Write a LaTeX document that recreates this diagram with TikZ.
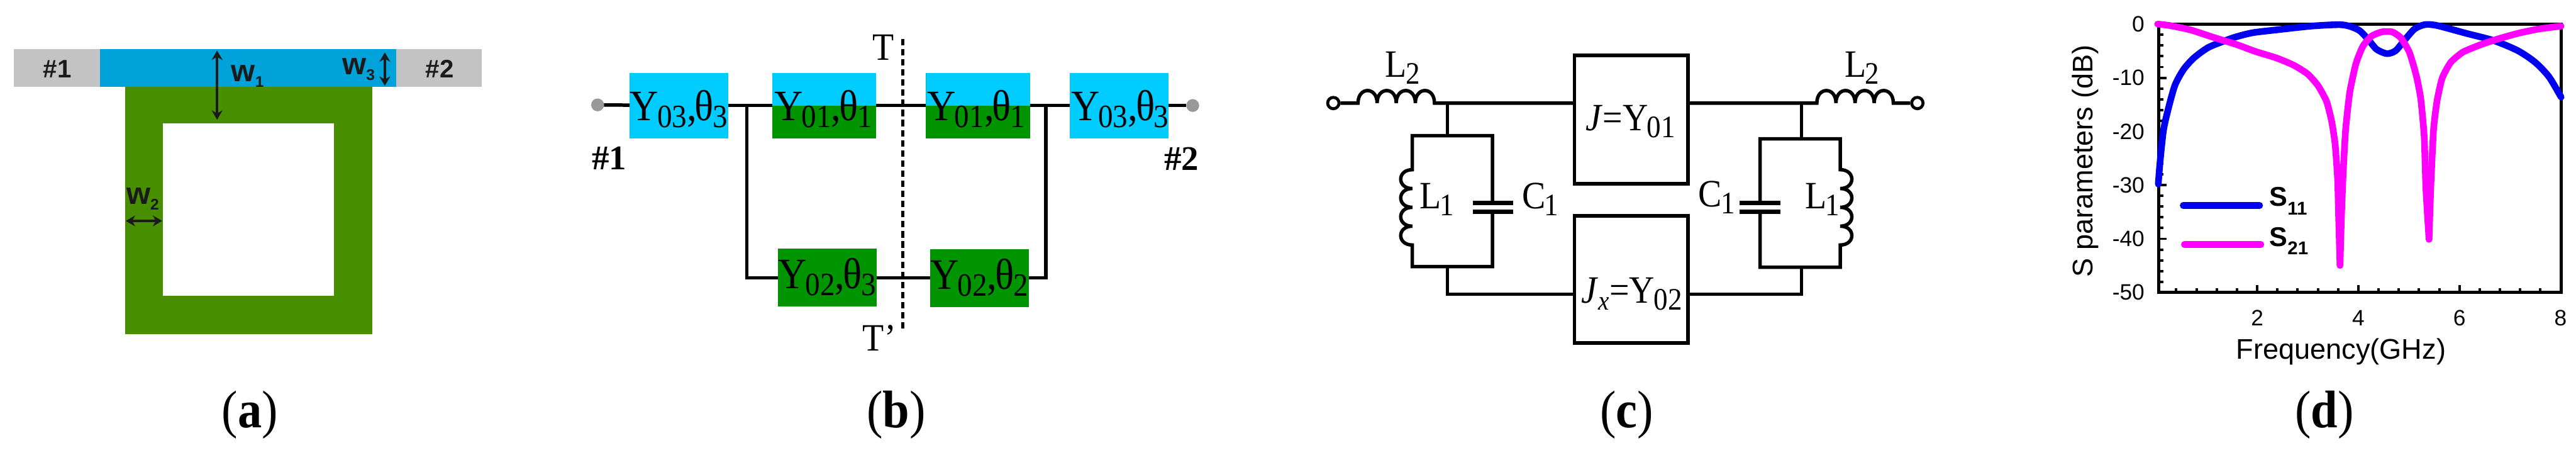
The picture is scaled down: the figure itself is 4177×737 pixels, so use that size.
\documentclass[tikz,border=0pt]{standalone}
\usepackage{fontspec}
\usepackage{graphicx}
\setmainfont{Liberation Serif}
\setsansfont{Liberation Sans}
\usetikzlibrary{arrows.meta}
\definecolor{agray}{HTML}{C3C3C3}
\definecolor{ablue}{HTML}{00A3D9}
\definecolor{agreen}{HTML}{488F00}
\definecolor{ink}{HTML}{1A1A1A}
\definecolor{bcyan}{HTML}{00CCFF}
\definecolor{bgreen}{HTML}{009400}
\definecolor{dotgray}{HTML}{999999}
\definecolor{sblue}{HTML}{0000F0}
\definecolor{smag}{HTML}{FF00FF}
\newcommand{\fpx}[1]{\fontsize{\dimexpr#1pt/4\relax}{\dimexpr#1pt/4\relax}\selectfont}
\newcommand{\subsc}[3]{\raisebox{-#2pt}{\fpx{#1}#3}}
\newcommand{\tall}[1]{\scalebox{1}[1.1]{#1}}
\newcommand{\wlab}[1]{\sffamily\bfseries\fpx{50}w\subsc{25}{2.3}{#1}}
\newcommand{\ytheta}[2]{\tall{\fpx{64}Y\kern-.5pt\subsc{48}{2.5}{#1},\kern-.8pt θ\kern-.3pt\subsc{48}{2.5}{#2}}}
\newcommand{\elab}[2]{\tall{\fpx{57}#1\kern-.4pt\subsc{46}{2.5}{#2}}}
\newcommand{\capt}[1]{\tall{\fpx{78}(\textbf{#1})}}
\tikzset{
  bx/.style 2 args={rectangle,inner sep=0pt,outer sep=0pt,minimum width=#1*.25pt,minimum height=#2*.25pt},
  txt/.style={inner sep=0pt,outer sep=0pt,anchor=base},
  txtw/.style={inner sep=0pt,outer sep=0pt,anchor=base west},
  dimarrow/.style={draw=ink,line width=.95pt,{Stealth[length=3.8pt,width=4.4pt]}-{Stealth[length=3.8pt,width=4.4pt]}},
  wire/.style={draw=black,line width=1.4pt,line join=miter},
  halfbox/.style={bx={169}{106},fill=bgreen,path picture={\fill[bcyan] (path picture bounding box.north west) rectangle (path picture bounding box.east);}},
  cyanbox/.style={bx={160}{106},fill=bcyan},
  greenbox/.style={bx={160}{94},fill=bgreen},
  portdot/.style={circle,fill=dotgray,inner sep=0pt,outer sep=0pt,minimum size=5.2pt},
  term/.style={circle,draw=black,fill=white,line width=1.2pt,inner sep=0pt,minimum size=4.6pt},
  axisline/.style={draw=black,line width=1.25pt},
  tick/.style={draw=black,line width=1pt},
  s11/.style={draw=sblue,line width=2.7pt,line join=round,line cap=round},
  s21/.style={draw=smag,line width=2.7pt,line join=round,line cap=round},
  ticklab/.style={font=\sffamily\fpx{36},inner sep=0pt},
  axtitle/.style={font=\sffamily\fpx{46},inner sep=0pt}
}
\begin{document}
\begin{tikzpicture}[x=.25pt,y=-.25pt]
\path[use as bounding box] (0,0) rectangle (4177,737);
% ---- (a) layout
\node[bx={759}{61},fill=agray] (feed) at (401.5,110.5) {};
\node[bx={480}{61},fill=ablue] (line) at (402,110.5) {};
\node[bx={401}{400},fill=agreen,anchor=north] (ring) at (403.5,141) {};
\node[bx={278}{279},fill=white,anchor=north west] (hole) at (264,200) {};
\node[font=\sffamily\bfseries\fpx{41},text=ink,inner sep=0pt] (p1a) at (93,112) {\#1};
\node[font=\sffamily\bfseries\fpx{41},text=ink,inner sep=0pt] (p2a) at (713,112) {\#2};
\coordinate (w1t) at (352,82); \coordinate (w1b) at (352,194);
\coordinate (w3t) at (624,85); \coordinate (w3b) at (624,139);
\coordinate (w2l) at (204,358); \coordinate (w2r) at (263,358);
\draw[dimarrow] (w1t) -- (w1b);
\draw[dimarrow] (w3t) -- (w3b);
\draw[dimarrow] (w2l) -- (w2r);
\node[txtw,text=ink] (w1) at (375,132) {\wlab{1}};
\node[txtw,text=ink] (w3) at (555,121) {\wlab{3}};
\node[txtw,text=ink] (w2) at (205,331) {\wlab{2}};
\node[txt] (capa) at (405,693) {\capt{a}};
% ---- (b) transmission lines
\node[cyanbox] (b1) at (1101,171) {};
\node[halfbox] (b2) at (1336.5,171) {};
\node[halfbox] (b3) at (1586,171) {};
\node[cyanbox] (b4) at (1815,171) {};
\node[greenbox] (b5) at (1341.5,449.5) {};
\node[greenbox] (b6) at (1588,451) {};
\node[portdot] (pl) at (969,170) {};
\node[portdot] (pr) at (1934,171) {};
\coordinate (jl) at (1211,171);
\coordinate (jr) at (1696,171);
\coordinate (cl) at (1211,450);
\coordinate (cr) at (1696,450);
\draw[wire] (pl) -- (b1);
\draw[wire] (b1) -- (b2);
\draw[wire] (b2) -- (b3);
\draw[wire] (b3) -- (b4);
\draw[wire] (b4) -- (pr);
\draw[wire] (jl) -- (cl) -- (cl -| b5.west);
\draw[wire] (jr) -- (cr) -- (cr -| b6.east);
\draw[wire] (b5.east |- cl) -- (b6.west |- cl);
\coordinate (cutt) at (1464,63); \coordinate (cutb) at (1464,536);
\draw[draw=black,line width=1.25pt,dash pattern=on 2.6pt off 1.5pt] (cutt) -- (cutb);
\node[txt] (y1) at (1101,195) {\ytheta{03}{3}};
\node[txt] (y2) at (1335,195) {\ytheta{01}{1}};
\node[txt] (y3) at (1583,195) {\ytheta{01}{1}};
\node[txt] (y4) at (1816,195) {\ytheta{03}{3}};
\node[txt] (y5) at (1341,468) {\ytheta{02}{3}};
\node[txt] (y6) at (1588,469) {\ytheta{02}{2}};
\node[txt] (tt) at (1432,97) {\tall{\fpx{57}T}};
\node[txt] (ttp) at (1426,569) {\tall{\fpx{57}T\char39}};
\node[font=\bfseries\fpx{56},inner sep=0pt] (p1b) at (988,256) {\#1};
\node[font=\bfseries\fpx{56},inner sep=0pt] (p2b) at (1916,257) {\#2};
\node[txt] (capb) at (1453,693) {\tall{\fpx{78}(\textbf{b})}};
% ---- (c) equivalent circuit
\node[bx={184}{208},draw=black,line width=1.5pt] (jbox) at (2645,194) {};
\node[bx={184}{206},draw=black,line width=1.5pt] (jxbox) at (2645,453) {};
\node[term] (tl) at (2162,167) {};
\node[term] (tr) at (3109,167) {};
\coordinate (l2la) at (2202,167); \coordinate (l2lb) at (2326,167);
\coordinate (l2ra) at (2946,167); \coordinate (l2rb) at (3070,167);
\coordinate (jna) at (2347,167); \coordinate (jnb) at (2921,167);
\draw[wire] (tl) -- (l2la) \foreach \i in {1,2,3,4} { .. controls +(0,-27) and +(0,-27) .. ++(31,0) } -- (jbox.west |- l2la);
\draw[wire] (jbox.east |- l2ra) -- (l2ra) \foreach \i in {1,2,3,4} { .. controls +(0,-27) and +(0,-27) .. ++(31,0) } -- (tr);
% left tank
\coordinate (lt) at (2347,220); \coordinate (lb) at (2347,432);
\coordinate (ltl) at (2290,220); \coordinate (ltr) at (2420,220);
\coordinate (lbl) at (2290,432); \coordinate (lbr) at (2420,432);
\coordinate (lca) at (2420,329); \coordinate (lcb) at (2420,343);
\coordinate (lcoil) at (2290,275);
\draw[wire] (jna) -- (lt);
\draw[wire] (lca) -- (ltr) -- (ltl) -- (lcoil) \foreach \i in {1,2,3,4} { .. controls +(-25,0) and +(-25,0) .. ++(0,30.5) } -- (lbl) -- (lbr) -- (lcb);
\draw[draw=black,line width=1.9pt] (2388,329) -- (2454,329);
\draw[draw=black,line width=1.9pt] (2388,343) -- (2454,343);
\draw[wire] (lb) -- (2347,477) -- (jxbox.west |- 2347,477);
% right tank
\coordinate (rt) at (2921,225); \coordinate (rb) at (2921,433);
\coordinate (rtl) at (2854,225); \coordinate (rtr) at (2984,225);
\coordinate (rbl) at (2854,433); \coordinate (rbr) at (2984,433);
\coordinate (rca) at (2854,329); \coordinate (rcb) at (2854,343);
\coordinate (rcoil) at (2984,275);
\draw[wire] (jnb) -- (rt);
\draw[wire] (rca) -- (rtl) -- (rtr) -- (rcoil) \foreach \i in {1,2,3,4} { .. controls +(25,0) and +(25,0) .. ++(0,30.5) } -- (rbr) -- (rbl) -- (rcb);
\draw[draw=black,line width=1.9pt] (2821,329) -- (2887,329);
\draw[draw=black,line width=1.9pt] (2821,343) -- (2887,343);
\draw[wire] (rb) -- (2921,477) -- (jxbox.east |- 2921,477);
\node[txtw] (ll2l) at (2246,125) {\elab{L}{2}};
\node[txtw] (ll2r) at (2991,125) {\elab{L}{2}};
\node[txtw] (ll1l) at (2302,338) {\elab{L}{1}};
\node[txtw] (lc1l) at (2468,338) {\elab{C}{1}};
\node[txtw] (lc1r) at (2754,335) {\elab{C}{1}};
\node[txtw] (ll1r) at (2927,338) {\elab{L}{1}};
\node[txt] (jt) at (2644,212) {\tall{\fpx{57}\textit{J}=Y\kern-.4pt\subsc{46}{2.5}{01}}};
\node[txt] (jxt) at (2646,491) {\tall{\fpx{57}\textit{J}\subsc{40}{2.5}{\textit{x}}=Y\kern-.4pt\subsc{46}{2.5}{02}}};
\node[txt] (capc) at (2638,693) {\tall{\fpx{78}(\textbf{c})}};
% ---- (d) plot
\foreach \v in {0,-2,...,-50} { \draw[tick] (3500,39+8.7*-\v) -- ++(8,0); }
\foreach \v in {0,-10,...,-50} { \draw[tick] (3500,39+8.7*-\v) -- ++(13,0); }
\foreach \f in {0.4,0.8,...,7.7} { \draw[tick] (3496+82*\f,474) -- ++(0,-7); }
\foreach \f in {2,4,6,8} { \draw[tick] (3496+82*\f,474) -- ++(0,-12); }
\draw[axisline] (3500,39) rectangle (4153,474);
\foreach \v/\s in {0/0,10/-10,20/-20,30/-30,40/-40,50/-50} { \node[ticklab,anchor=east] (yl\v) at (3478,39+8.7*\v) {\s}; }
\foreach \f in {2,4,6,8} { \node[ticklab] (xl\f) at (3496+82*\f,515) {\f}; }
\node[axtitle] (xt) at (3796,570) {Frequency(GHz)};
\node[axtitle,rotate=90] (yt) at (3381,261) {S parameters (dB)};
\begin{scope}[shift={(3300,0)},x=.25pt/1.788,y=-.25pt/2.127]
\draw[s11] plot[smooth,tension=.45] coordinates {(357,635)(362,560)(372,450)(385,380)(405,295)(430,240)(460,200)(500,165)(540,145)(580,128)(630,113)(700,103)(800,90)(880,85)(910,90)(940,105)(965,135)(990,170)(1020,185)(1045,175)(1070,140)(1100,100)(1130,85)(1165,88)(1250,115)(1330,140)(1400,175)(1450,215)(1490,265)(1525,335)};
\draw[s21] plot[smooth,tension=.35] coordinates {(355,83)(390,88)(450,103)(520,130)(580,152)(640,178)(700,200)(750,225)(790,255)(820,295)(845,350)(860,420)(870,500)(877,620)(880,750)(884,915)};
\draw[s21] plot[smooth,tension=.35] coordinates {(884,915)(888,750)(893,600)(900,450)(912,320)(930,220)(950,160)(975,125)(1005,110)(1035,110)(1060,130)(1085,180)(1105,260)(1118,340)(1128,470)(1133,650)(1142,825)};
\draw[s21] plot[smooth,tension=.35] coordinates {(1142,825)(1147,650)(1155,450)(1165,350)(1180,270)(1205,215)(1240,180)(1290,155)(1340,135)(1400,115)(1460,100)(1525,90)};
\end{scope}
\coordinate (lg1a) at (3540,333); \coordinate (lg1b) at (3664,333);
\coordinate (lg2a) at (3542,396); \coordinate (lg2b) at (3666,396);
\draw[s11] (lg1a) -- (lg1b);
\draw[s21] (lg2a) -- (lg2b);
\node[txtw] (ls1) at (3680,334) {\sffamily\bfseries\fpx{44}S\subsc{30}{3.5}{11}};
\node[txtw] (ls2) at (3680,399) {\sffamily\bfseries\fpx{44}S\subsc{30}{3.5}{21}};
\node[txt] (capd) at (3769,693) {\tall{\fpx{78}(\textbf{d})}};
\end{tikzpicture}
\end{document}
